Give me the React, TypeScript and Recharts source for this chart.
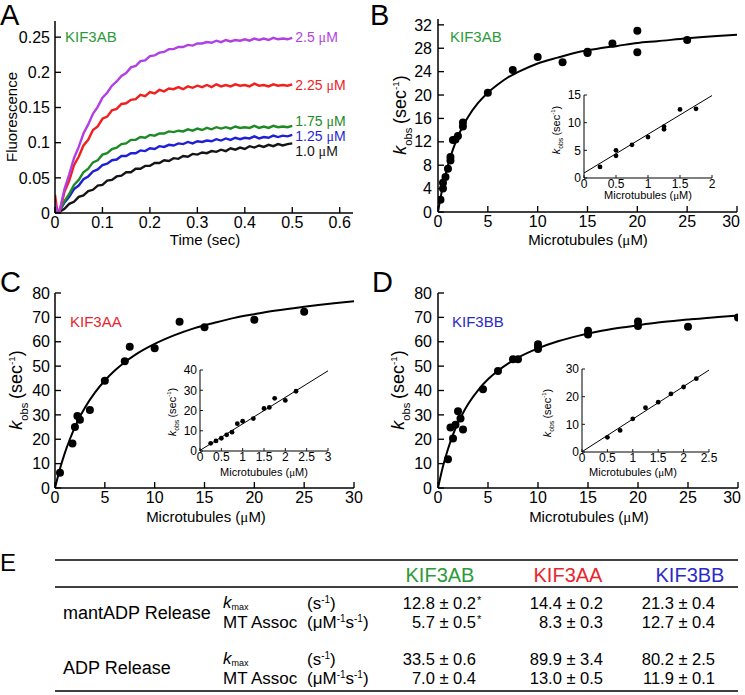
import React from "react";
import { ComposedChart, Line, Scatter, XAxis, YAxis, ReferenceDot } from "recharts";

const FONT = "'Liberation Sans', Arial, Helvetica, sans-serif";
const NARROW = "'Liberation Sans Narrow', 'Arial Narrow', 'Liberation Sans', sans-serif";

// ---------- A: mantADP release traces (fluorescence vs time) ----------
const TIME = [
  0, 0.004, 0.01, 0.02, 0.03, 0.04, 0.05, 0.06, 0.07, 0.08, 0.09, 0.1, 0.11, 0.12, 0.13, 0.14, 0.15,
  0.16, 0.17, 0.18, 0.19, 0.2, 0.21, 0.22, 0.23, 0.24, 0.25, 0.26, 0.27, 0.28, 0.29, 0.3, 0.31, 0.32,
  0.33, 0.34, 0.35, 0.36, 0.37, 0.38, 0.39, 0.4, 0.41, 0.42, 0.43, 0.44, 0.45, 0.46, 0.47, 0.48, 0.49, 0.5,
];
const MT_25 = [
  0.014, 0.004, 0.004, 0.034, 0.055, 0.078, 0.094, 0.113, 0.126, 0.141, 0.151, 0.164, 0.171, 0.181,
  0.187, 0.195, 0.199, 0.207, 0.209, 0.216, 0.217, 0.223, 0.224, 0.228, 0.229, 0.233, 0.233, 0.236,
  0.236, 0.239, 0.238, 0.241, 0.241, 0.243, 0.242, 0.245, 0.243, 0.246, 0.244, 0.246, 0.245, 0.247,
  0.245, 0.248, 0.246, 0.248, 0.246, 0.249, 0.247, 0.248, 0.247, 0.249,
];
const MT_225 = [
  0.026, 0.006, 0.003, 0.03, 0.046, 0.068, 0.08, 0.096, 0.104, 0.118, 0.123, 0.134, 0.137, 0.146,
  0.148, 0.155, 0.156, 0.161, 0.162, 0.168, 0.166, 0.172, 0.17, 0.175, 0.173, 0.177, 0.176, 0.179,
  0.176, 0.18, 0.178, 0.181, 0.179, 0.182, 0.179, 0.183, 0.18, 0.182, 0.18, 0.183, 0.181, 0.182,
  0.18, 0.184, 0.181, 0.182, 0.18, 0.183, 0.181, 0.182, 0.181, 0.183,
];
const MT_175 = [
  0.01, 0.003, 0.003, 0.017, 0.027, 0.04, 0.047, 0.058, 0.063, 0.072, 0.075, 0.083, 0.085, 0.091,
  0.093, 0.098, 0.099, 0.104, 0.104, 0.108, 0.107, 0.111, 0.11, 0.113, 0.113, 0.116, 0.115, 0.117,
  0.116, 0.119, 0.117, 0.12, 0.118, 0.121, 0.119, 0.122, 0.12, 0.122, 0.12, 0.123, 0.121, 0.122,
  0.121, 0.124, 0.121, 0.123, 0.121, 0.124, 0.122, 0.123, 0.122, 0.124,
];
const MT_125 = [
  0.008, 0.002, 0.003, 0.015, 0.023, 0.034, 0.039, 0.048, 0.052, 0.059, 0.062, 0.068, 0.07, 0.075,
  0.076, 0.081, 0.081, 0.085, 0.085, 0.089, 0.088, 0.092, 0.091, 0.095, 0.094, 0.097, 0.096, 0.099,
  0.098, 0.101, 0.099, 0.102, 0.101, 0.103, 0.102, 0.105, 0.103, 0.106, 0.104, 0.107, 0.105, 0.107,
  0.106, 0.109, 0.106, 0.108, 0.107, 0.11, 0.108, 0.11, 0.109, 0.111,
];
const MT_10 = [
  0.004, 0.001, 0.002, 0.006, 0.013, 0.016, 0.023, 0.025, 0.031, 0.033, 0.039, 0.04, 0.046, 0.047,
  0.052, 0.053, 0.058, 0.058, 0.063, 0.063, 0.067, 0.067, 0.071, 0.071, 0.075, 0.074, 0.078, 0.077,
  0.081, 0.08, 0.084, 0.083, 0.086, 0.085, 0.088, 0.087, 0.09, 0.088, 0.092, 0.09, 0.093, 0.091,
  0.095, 0.093, 0.096, 0.094, 0.097, 0.095, 0.098, 0.096, 0.098, 0.099,
];
const TRACE_NAMES = ["1.0", "1.25", "1.75", "2.25", "2.5"];
const TRACE_LABEL_Y = [0.0876, 0.1094, 0.131, 0.1816, 0.2496];
const A_Y_TICKS = [0, 0.05, 0.1, 0.15, 0.2, 0.25];
const A_X_TICKS = [0, 0.1, 0.2, 0.3, 0.4, 0.5, 0.6];

// ---------- B: KIF3AB ADP release ----------
const B_X = [0.25, 0.5, 0.5, 0.75, 1, 1.25, 1.25, 1.5, 1.75, 2, 2.5, 2.5, 5, 7.5, 10, 12.5, 15, 15, 17.5, 20, 20, 25];
const B_Y = [2.1, 4.0, 5.0, 6.0, 7.4, 8.8, 9.4, 12.3, 12.4, 13.0, 14.6, 15.3, 20.4, 24.3, 26.5, 25.6, 27.2, 27.4, 28.8, 31.0, 27.3, 29.4];
const B_FIT_X = [0, 0.25, 0.5, 1, 1.5, 2, 2.5, 3, 4, 5, 6, 7, 8, 10, 12, 14, 16, 18, 20, 22, 25, 28, 30];
const B_FIT_Y = [0, 2.4, 4.5, 8.0, 10.7, 12.9, 14.7, 16.2, 18.6, 20.4, 21.8, 23.0, 23.9, 25.4, 26.4, 27.3, 27.9, 28.4, 28.9, 29.2, 29.7, 30.1, 30.3];
const BI_X = [0.25, 0.5, 0.5, 0.75, 1, 1.25, 1.25, 1.5, 1.75];
const BI_Y = [2.0, 4.0, 5.0, 6.0, 7.4, 8.8, 9.3, 12.4, 12.5];
const BI_FIT_X = [0, 2];
const BI_FIT_Y = [0.9, 14.9];

// ---------- C: KIF3AA ----------
const C_X = [0.5, 1.75, 2, 2.25, 2.5, 3.5, 5, 7, 7.5, 10, 12.5, 15, 20, 25];
const C_Y = [6.3, 18.3, 25, 29.5, 28, 32, 44, 52, 58, 57.3, 68.2, 66, 69, 72.3];
const FIT_X = [0, 0.5, 1, 1.5, 2, 2.5, 3, 4, 5, 6, 7, 8, 10, 12, 14, 16, 18, 20, 22, 25, 28, 30];
const C_FIT_Y = [0, 7.9, 14.5, 20.1, 25.0, 29.2, 32.9, 39.1, 44.1, 48.2, 51.6, 54.5, 59.1, 62.7, 65.6, 67.8, 69.8, 71.3, 72.7, 74.4, 75.8, 76.6];
const CI_X = [0.25, 0.375, 0.5, 0.625, 0.75, 0.875, 1, 1.25, 1.5, 1.625, 1.75, 2, 2.25];
const CI_Y = [3.8, 5, 6.3, 8, 9.3, 13.5, 14.7, 16, 21, 21.5, 26, 25, 29.5];
const CI_FIT_X = [0, 3];
const CI_FIT_Y = [0.3, 39.6];

// ---------- D: KIF3BB ----------
const D_X = [1, 1.25, 1.5, 1.75, 2, 2.25, 2.5, 4.5, 6, 7.5, 8, 10, 10, 10, 15, 15, 20, 20, 25, 30];
const D_Y = [11.8, 24.8, 20.3, 26, 31.5, 28.5, 24, 40.5, 48, 52.8, 52.8, 57, 58, 59, 63, 64.5, 66.5, 68.3, 66.2, 70];
const D_FIT_Y = [0, 8.9, 16.0, 21.9, 26.7, 30.8, 34.4, 40.1, 44.6, 48.1, 51.0, 53.5, 57.3, 60.2, 62.4, 64.2, 65.6, 66.8, 67.9, 69.1, 70.2, 70.8];
const DI_X = [0.5, 0.75, 1, 1.25, 1.5, 1.75, 2, 2.25];
const DI_Y = [5.3, 7.8, 12, 16, 18, 21, 23.5, 26.5];
const DI_FIT_X = [0, 2.5];
const DI_FIT_Y = [0.1, 29.6];

const MT_TICKS = [0, 5, 10, 15, 20, 25, 30];
const B_Y_TICKS = [0, 4, 8, 12, 16, 20, 24, 28, 32];
const CD_Y_TICKS = [0, 10, 20, 30, 40, 50, 60, 70, 80];

// ---------- E: table ----------
const CONSTRUCTS = ["KIF3AB", "KIF3AA", "KIF3BB"];
const MANT_KMAX = ["12.8 ± 0.2", "14.4 ± 0.2", "21.3 ± 0.4"];
const MANT_ASSOC = ["5.7 ± 0.5", "8.3 ± 0.3", "12.7 ± 0.4"];
const MANT_STAR = [true, false, false];
const ADP_KMAX = ["33.5 ± 0.6", "89.9 ± 3.4", "80.2 ± 2.5"];
const ADP_ASSOC = ["7.0 ± 0.4", "13.0 ± 0.5", "11.9 ± 0.1"];

const TRACE_COLORS = ["#151515", "#1f1fd6", "#1e8a26", "#f0201e", "#b13fe3"];
const NAME_COLORS = ["#2c9a3a", "#e8262e", "#2a2ac8"];
const SERIF = "'Liberation Serif', 'DejaVu Serif', serif";

type Pt = { x: number; y: number };
const zip = (xs: number[], ys: number[]): Pt[] => xs.map((x, i) => ({ x, y: ys[i] }));

// bottom tick labels; the one hard against the page edge is pulled in, as in the figure
const xTick = (font: number, edge: number) => (p: any) => {
  const atEdge = p.x > edge;
  return (
    <text x={atEdge ? p.x + 3 : p.x} y={p.y} dy="0.71em" textAnchor={atEdge ? "end" : "middle"} fontSize={font} fill="#000">
      {p.payload.value}
    </text>
  );
};

function frameAxes(o: {
  xDomain: [number, number];
  xTicks: number[];
  yDomain: [number, number];
  yTicks: number[];
  yWidth: number;
  xHeight: number;
  tick: number;
  font: number;
  yMargin: number;
  xMargin: number;
  sw: number;
  edge?: number;
}) {
  const axisLine = { stroke: "#000", strokeWidth: o.sw };
  const tickLine = { stroke: "#000", strokeWidth: o.sw * 0.9 };
  const tk = { fill: "#000", fontSize: o.font };
  return [
    <XAxis key="xb" type="number" dataKey="x" domain={o.xDomain} ticks={o.xTicks} allowDataOverflow
      height={o.xHeight} axisLine={axisLine} tickLine={tickLine} tickSize={-o.tick} tickMargin={o.xMargin}
      tick={o.edge ? xTick(o.font, o.edge) : tk} interval={0} />,
    <XAxis key="xt" xAxisId="top" orientation="top" type="number" domain={o.xDomain} ticks={o.xTicks} allowDataOverflow
      height={0} axisLine={axisLine} tickLine={tickLine} tickSize={-o.tick} tick={false} />,
    <YAxis key="yl" type="number" domain={o.yDomain} ticks={o.yTicks} allowDataOverflow width={o.yWidth}
      axisLine={axisLine} tickLine={tickLine} tickSize={-o.tick} tickMargin={o.yMargin} tick={tk} interval={0} />,
    <YAxis key="yr" yAxisId="right" orientation="right" type="number" domain={o.yDomain} ticks={o.yTicks} allowDataOverflow
      width={0} axisLine={axisLine} tickLine={tickLine} tickSize={-o.tick} tick={false} />,
  ];
}

const dot = (r: number) => (p: any) => <circle cx={p.cx} cy={p.cy} r={r} fill="#000" />;

const concLabel = (name: string, color: string) => (props: any) => {
  const vb = props.viewBox || {};
  return (
    <text x={vb.x + 3} y={vb.y + 5} fontSize={14} fill={color}>
      {name} <tspan fontFamily={SERIF}>μ</tspan>M
    </text>
  );
};

function PanelA() {
  const rows = TIME.map((t, i) => ({ x: t, s0: MT_10[i], s1: MT_125[i], s2: MT_175[i], s3: MT_225[i], s4: MT_25[i] }));
  return (
    <div style={{ position: "absolute", left: 0, top: 0 }}>
      <ComposedChart width={370} height={255} data={rows} margin={{ top: 21, right: 17, bottom: 0, left: 0 }}>
        {frameAxes({
          xDomain: [0, 0.628], xTicks: A_X_TICKS, yDomain: [0, 0.273], yTicks: A_Y_TICKS,
          yWidth: 55, xHeight: 42, tick: 6, font: 16, yMargin: 11, xMargin: 10, sw: 1.5,
        })}
        {TRACE_COLORS.map((c, i) => (
          <Line key={i} dataKey={`s${i}`} type="linear" stroke={c} strokeWidth={2.4} dot={false} isAnimationActive={false} />
        ))}
        {TRACE_NAMES.map((n, i) => (
          <ReferenceDot key={n} x={0.5} y={TRACE_LABEL_Y[i]} r={0} stroke="none"
            label={{ content: concLabel(n, TRACE_COLORS[i]) }} />
        ))}
      </ComposedChart>
    </div>
  );
}

function KinPanel(p: {
  left: number; top: number; width: number; height: number; yWidth: number; mTop: number; mRight: number;
  yMax: number; yTicks: number[]; yMargin: number; pts: Pt[]; fit: Pt[]; edge?: number;
}) {
  return (
    <div style={{ position: "absolute", left: p.left, top: p.top }}>
      <ComposedChart width={p.width} height={p.height} margin={{ top: p.mTop, right: p.mRight, bottom: 0, left: 0 }}>
        {frameAxes({
          xDomain: [0, 30], xTicks: MT_TICKS, yDomain: [0, p.yMax], yTicks: p.yTicks,
          yWidth: p.yWidth, xHeight: 42, tick: 6, font: 16, yMargin: p.yMargin, xMargin: 10, sw: 1.5, edge: p.edge,
        })}
        <Line data={p.fit} dataKey="y" type="monotone" stroke="#000" strokeWidth={2} dot={false} isAnimationActive={false} />
        <Scatter data={p.pts} dataKey="y" shape={dot(4)} isAnimationActive={false} />
      </ComposedChart>
    </div>
  );
}

function Inset(p: {
  left: number; top: number; plotW: number; plotH: number; xMax: number; xTicks: number[];
  yMax: number; yTicks: number[]; pts: Pt[]; fit: Pt[];
}) {
  const yW = 22, xH = 16, mT = 8, mR = 6;
  return (
    <div style={{ position: "absolute", left: p.left - yW, top: p.top - mT }}>
      <ComposedChart width={yW + p.plotW + mR} height={mT + p.plotH + xH} margin={{ top: mT, right: mR, bottom: 0, left: 0 }}>
        {frameAxes({
          xDomain: [0, p.xMax], xTicks: p.xTicks, yDomain: [0, p.yMax], yTicks: p.yTicks,
          yWidth: yW, xHeight: xH, tick: 3, font: 12, yMargin: 6, xMargin: 4, sw: 1,
        })}
        <Line data={p.fit} dataKey="y" type="linear" stroke="#000" strokeWidth={1} dot={false} isAnimationActive={false} />
        <Scatter data={p.pts} dataKey="y" shape={dot(2.4)} isAnimationActive={false} />
      </ComposedChart>
    </div>
  );
}

function Kobs({ cx, cy, s }: { cx: number; cy: number; s: number }) {
  return (
    <text transform={`rotate(-90 ${cx} ${cy})`} x={cx} y={cy + s * 0.35} textAnchor="middle" fontSize={s} fill="#000">
      <tspan fontStyle="italic">k</tspan>
      <tspan fontSize={s * 0.62} dy={s * 0.3}>obs</tspan>
      <tspan dy={-s * 0.3} dx={s * 0.2}>(sec</tspan>
      <tspan fontSize={s * 0.55} dy={-s * 0.42}>-1</tspan>
      <tspan dy={s * 0.42}>)</tspan>
    </text>
  );
}

function MtTitle({ cx, y, s }: { cx: number; y: number; s: number }) {
  return (
    <text x={cx} y={y} textAnchor="middle" fontSize={s} fill="#000">
      Microtubules (<tspan fontFamily={SERIF}>μ</tspan>M)
    </text>
  );
}

function Units({ x, y, per }: { x: number; y: number; per: boolean }) {
  const sup = { fontSize: 10, dy: -6 };
  return per ? (
    <text x={x} y={y} fontSize={17} fill="#000">
      (μM<tspan {...sup}>-1</tspan><tspan dy={6}>s</tspan><tspan {...sup}>-1</tspan><tspan dy={6}>)</tspan>
    </text>
  ) : (
    <text x={x} y={y} fontSize={17} fill="#000">
      (s<tspan {...sup}>-1</tspan><tspan dy={6}>)</tspan>
    </text>
  );
}

function TableE() {
  const colRight = [476, 603, 715];
  const colCenter = [440, 568, 690];
  const rule = (y: number) => <line x1={55} x2={738} y1={y} y2={y} stroke="#000" strokeWidth={1.6} />;
  const valueRow = (vals: string[], y: number, stars?: boolean[]) =>
    vals.map((v, i) => (
      <g key={`${y}-${i}`}>
        <text x={colRight[i]} y={y} textAnchor="end" fontSize={16.5} fontFamily={NARROW} fill="#000">{v}</text>
        {stars && stars[i] ? <text x={colRight[i] + 1} y={y - 5} fontSize={11} fill="#000">*</text> : null}
      </g>
    ));
  const kmax = (y: number) => (
    <text x={223} y={y} fontSize={17} fill="#000">
      <tspan fontStyle="italic">k</tspan><tspan fontSize={9} dy={2}>max</tspan>
    </text>
  );
  return (
    <g>
      <text x={0} y={571} fontSize={24} fill="#000">E</text>
      {rule(560)}
      {CONSTRUCTS.map((c, i) => (
        <text key={c} x={colCenter[i]} y={582} textAnchor="middle" fontSize={20} fill={NAME_COLORS[i]}>{c}</text>
      ))}
      {rule(587)}
      <text x={63} y={619} fontSize={18} fill="#000">mantADP Release</text>
      {kmax(608)}
      <Units x={307} y={609} per={false} />
      <text x={223} y={628} fontSize={17} fill="#000">MT Assoc</text>
      <Units x={307} y={628} per={true} />
      {valueRow(MANT_KMAX, 609, MANT_STAR)}
      {valueRow(MANT_ASSOC, 628, MANT_STAR)}
      <text x={63} y={674} fontSize={18} fill="#000">ADP Release</text>
      {kmax(664)}
      <Units x={307} y={665} per={false} />
      <text x={223} y={684} fontSize={17} fill="#000">MT Assoc</text>
      <Units x={307} y={684} per={true} />
      {valueRow(ADP_KMAX, 665)}
      {valueRow(ADP_ASSOC, 684)}
      {rule(691)}
    </g>
  );
}

function Overlay() {
  return (
    <svg width={745} height={695} style={{ position: "absolute", left: 0, top: 0, pointerEvents: "none" }} fontFamily={FONT}>
      <text x={0} y={25} fontSize={29} fill="#000">A</text>
      <text x={370} y={25} fontSize={29} fill="#000">B</text>
      <text x={0} y={292} fontSize={29} fill="#000">C</text>
      <text x={372} y={292} fontSize={29} fill="#000">D</text>

      <text transform="rotate(-90 12 117)" x={12} y={122} textAnchor="middle" fontSize={15} fill="#000">Fluorescence</text>
      <text x={205} y={245} textAnchor="middle" fontSize={15} fill="#000">Time (sec)</text>
      <text x={65} y={42} fontSize={15} fill={NAME_COLORS[0]}>KIF3AB</text>

      <Kobs cx={400} cy={115} s={18} />
      <MtTitle cx={588} y={245} s={15} />
      <text x={450} y={42} fontSize={15} fill={NAME_COLORS[0]}>KIF3AB</text>
      <Kobs cx={556} cy={130} s={11} />
      <MtTitle cx={648} y={199} s={11} />

      <Kobs cx={16} cy={390} s={18} />
      <MtTitle cx={206} y={522} s={15} />
      <text x={70} y={327} fontSize={15} fill={NAME_COLORS[1]}>KIF3AA</text>
      <Kobs cx={172} cy={412} s={11} />
      <MtTitle cx={264} y={476} s={11} />

      <Kobs cx={398} cy={390} s={18} />
      <MtTitle cx={589} y={522} s={15} />
      <text x={452} y={327} fontSize={15} fill={NAME_COLORS[2]}>KIF3BB</text>
      <Kobs cx={547} cy={413} s={11} />
      <MtTitle cx={633} y={476} s={11} />

      <TableE />
    </svg>
  );
}

export default function App() {
  return (
    <div style={{ position: "absolute", left: 0, top: 0, width: 745, height: 695, background: "#fff", fontFamily: FONT, overflow: "hidden" }}>
      <style>{`.recharts-surface { overflow: visible; }`}</style>
      <PanelA />
      <KinPanel left={370} top={0} width={375} height={254} yWidth={68} mTop={19} mRight={8}
        yMax={33} yTicks={B_Y_TICKS} yMargin={12} pts={zip(B_X, B_Y)} fit={zip(B_FIT_X, B_FIT_Y)} edge={355} />
      <Inset left={584} top={95} plotW={128} plotH={83} xMax={2} xTicks={[0, 0.5, 1, 1.5, 2]}
        yMax={15} yTicks={[0, 5, 10, 15]} pts={zip(BI_X, BI_Y)} fit={zip(BI_FIT_X, BI_FIT_Y)} />
      <KinPanel left={0} top={260} width={370} height={270} yWidth={55} mTop={33} mRight={16}
        yMax={80} yTicks={CD_Y_TICKS} yMargin={11} pts={zip(C_X, C_Y)} fit={zip(FIT_X, C_FIT_Y)} />
      <Inset left={200} top={370} plotW={128} plotH={81} xMax={3} xTicks={[0, 0.5, 1, 1.5, 2, 2.5, 3]}
        yMax={40} yTicks={[0, 10, 20, 30, 40]} pts={zip(CI_X, CI_Y)} fit={zip(CI_FIT_X, CI_FIT_Y)} />
      <KinPanel left={370} top={260} width={375} height={270} yWidth={68} mTop={33} mRight={7}
        yMax={80} yTicks={CD_Y_TICKS} yMargin={12} pts={zip(D_X, D_Y)} fit={zip(FIT_X, D_FIT_Y)} edge={355} />
      <Inset left={582} top={369} plotW={127} plotH={83} xMax={2.5} xTicks={[0, 0.5, 1, 1.5, 2, 2.5]}
        yMax={30} yTicks={[0, 10, 20, 30]} pts={zip(DI_X, DI_Y)} fit={zip(DI_FIT_X, DI_FIT_Y)} />
      <Overlay />
    </div>
  );
}
